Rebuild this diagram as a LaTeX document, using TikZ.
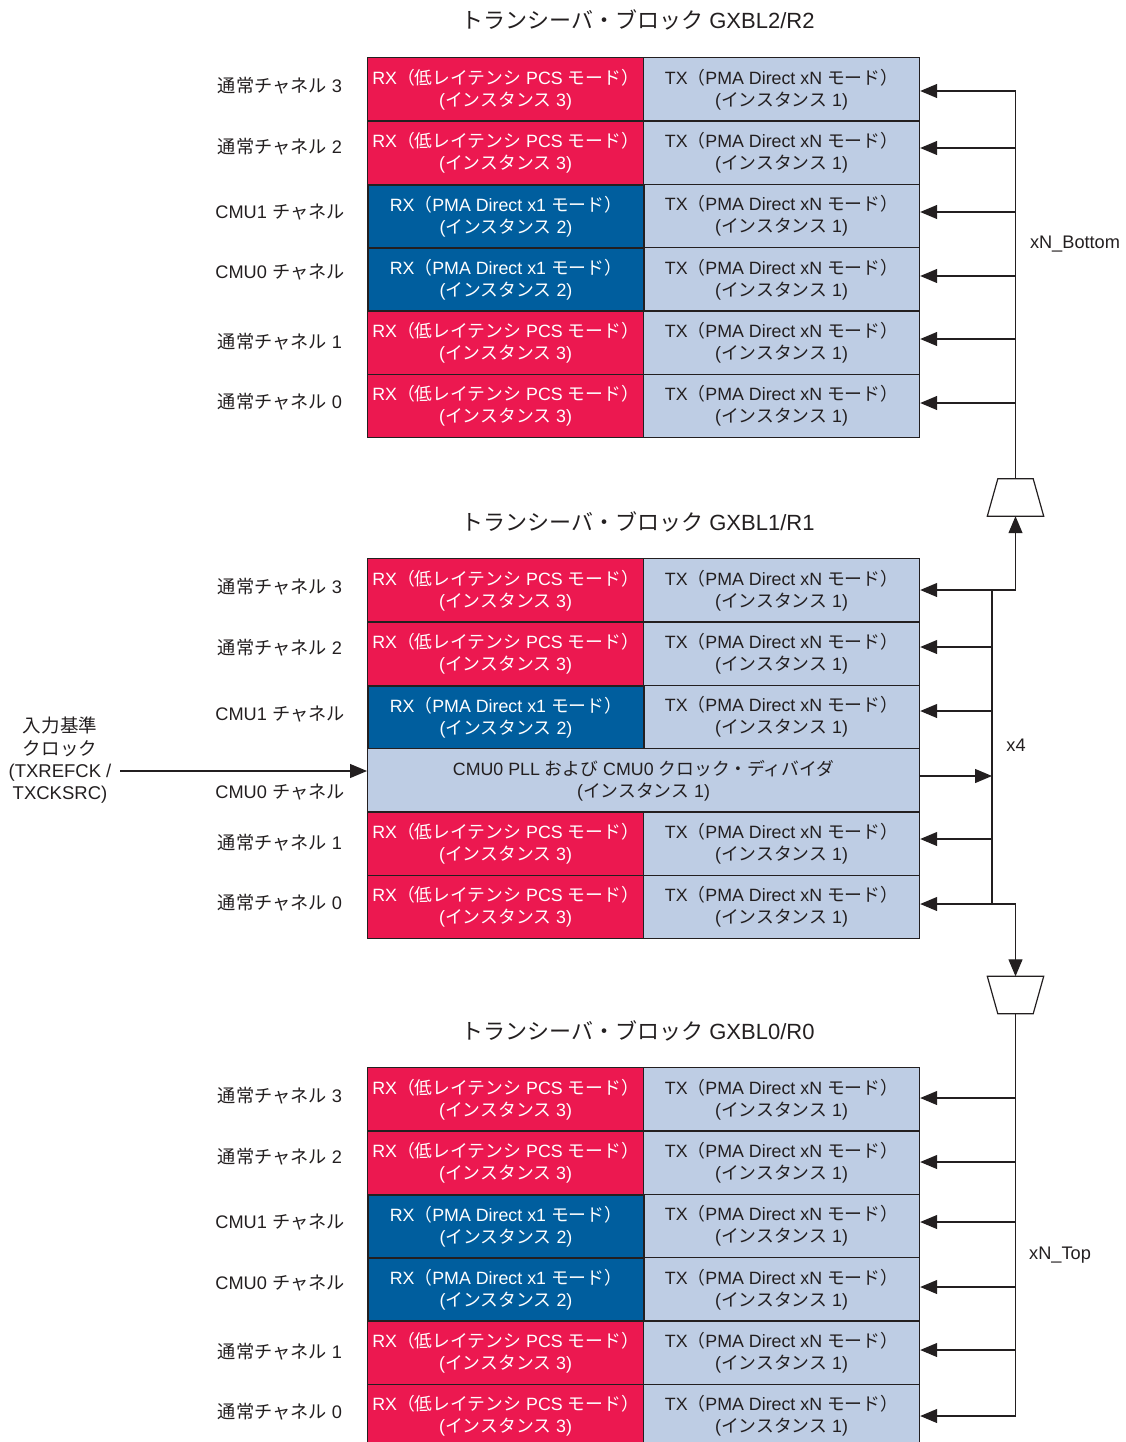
\documentclass[tikz,border=0pt]{standalone}
\usepackage{fontspec}
\setmainfont{Liberation Sans}
\newfontfamily\jpf{Noto Sans CJK JP}
\newcommand\J[1]{{\jpf #1}}
\usetikzlibrary{arrows.meta}
\definecolor{rxred}{RGB}{236,24,80}
\definecolor{rxblue}{RGB}{0,94,158}
\definecolor{txblue}{RGB}{190,205,228}
\definecolor{ink}{RGB}{35,31,32}
\newcommand\RXlowtxt{RX\J{（低レイテンシ} PCS \J{モード）}\\(\J{インスタンス} 3)}
\newcommand\RXpmatxt{RX\J{（}PMA Direct x1 \J{モード）}\\(\J{インスタンス} 2)}
\newcommand\TXtxt{TX\J{（}PMA Direct xN \J{モード）}\\(\J{インスタンス} 1)}
\newcommand\NormLab[1]{\J{通常チャネル} #1}
\newcommand\CmuLab[1]{CMU#1 \J{チャネル}}
% #1 name, #2 top y, #3 label, #4 label y
\newcommand\lowrow[4]{%
  \node[rxlow] (#1rx) at (367,#2) {\RXlowtxt};
  \node[txc] (#1tx) at (643,#2) {\TXtxt};
  \node[chlabel] (#1lab) at (280,#4) {#3};}
\newcommand\pmarow[4]{%
  \node[txc] (#1tx) at (643,#2) {\TXtxt};
  \node[rxpma] (#1rx) at (367,#2) {\RXpmatxt};
  \node[chlabel] (#1lab) at (280,#4) {#3};}
\begin{document}
\begin{tikzpicture}[x=1pt,y=-1pt,
  cell/.style={draw=ink, line width=1.2pt, minimum width=276pt, minimum height=63.33pt,
    anchor=north west, align=center, inner sep=0pt, font=\fontsize{17.8}{22}\selectfont, text=ink},
  rxlow/.style={cell, fill=rxred, text=white},
  rxpma/.style={cell, fill=rxblue, text=white, line width=2pt},
  txc/.style={cell, fill=txblue},
  cmu/.style={cell, fill=txblue, minimum width=552pt},
  chlabel/.style={font=\fontsize{18.2}{22}\selectfont, text=ink},
  side/.style={font=\fontsize{18.5}{22.3}\selectfont, text=ink, align=center, inner sep=0pt},
  ttl/.style={font=\fontsize{22}{26}\selectfont, text=ink},
  wire/.style={draw=ink, line width=1.2pt},
  arr/.style={wire, -{Triangle[length=17pt,width=14pt]}},
  muxbox/.style={inner sep=0pt, minimum width=56pt, minimum height=37pt}
]
\useasboundingbox (0,0) rectangle (1125,1442);

% ---------- titles
\node[ttl] (ttlT) at (638,20) {\J{トランシーバ・ブロック} GXBL2/R2};
\node[ttl] (ttlM) at (638,522) {\J{トランシーバ・ブロック} GXBL1/R1};
\node[ttl] (ttlB) at (638,1031) {\J{トランシーバ・ブロック} GXBL0/R0};

% ---------- top block
\lowrow{T1}{57}{\NormLab{3}}{86}
\lowrow{T2}{120.33}{\NormLab{2}}{147}
\lowrow{T5}{310.33}{\NormLab{1}}{342}
\lowrow{T6}{373.67}{\NormLab{0}}{402}
\pmarow{T3}{183.67}{\CmuLab{1}}{212}
\pmarow{T4}{247}{\CmuLab{0}}{272}

% ---------- middle block
\lowrow{M1}{558}{\NormLab{3}}{587}
\lowrow{M2}{621.33}{\NormLab{2}}{648}
\lowrow{M5}{811.33}{\NormLab{1}}{843}
\lowrow{M6}{874.67}{\NormLab{0}}{903}
\pmarow{M3}{684.67}{\CmuLab{1}}{714}
\node[cmu] (Mcmu) at (367,748) {CMU0 PLL \J{および} CMU0 \J{クロック・ディバイダ}\\(\J{インスタンス} 1)};
\node[chlabel] (M4lab) at (280,792) {\CmuLab{0}};

% ---------- bottom block
\lowrow{B1}{1067}{\NormLab{3}}{1096}
\lowrow{B2}{1130.33}{\NormLab{2}}{1157}
\lowrow{B5}{1320.33}{\NormLab{1}}{1352}
\lowrow{B6}{1383.67}{\NormLab{0}}{1412}
\pmarow{B3}{1193.67}{\CmuLab{1}}{1222}
\pmarow{B4}{1257}{\CmuLab{0}}{1283}

% ---------- input clock
\node[side] (clklab) at (60,760.5) {\J{入力基準}\\\J{クロック}\\(TXREFCK /\\TXCKSRC)};
\coordinate (clkin) at (120,771);
\draw[arr] (clkin) -- (clkin -| Mcmu.west);

% ---------- multiplexers
\node[muxbox] (muxA) at (1015.5,497.5) {};
\draw[wire] (muxA.south west) -- (muxA.south east) -- ([xshift=-10.5pt]muxA.north east)
  -- ([xshift=10.5pt]muxA.north west) -- cycle;
\node[muxbox] (muxB) at (1015.5,995) {};
\draw[wire] (muxB.north west) -- (muxB.north east) -- ([xshift=-10.5pt]muxB.south east)
  -- ([xshift=10.5pt]muxB.south west) -- cycle;

% ---------- top block feed (xN_Bottom)
\coordinate (Ta1) at (1015.5,91);
\coordinate (Ta2) at (1015.5,148);
\coordinate (Ta3) at (1015.5,212);
\coordinate (Ta4) at (1015.5,276);
\coordinate (Ta5) at (1015.5,339);
\coordinate (Ta6) at (1015.5,403);
\draw[wire] (muxA.north) -- (Ta1);
\foreach \k in {1,...,6} {\draw[arr] (Ta\k) -- (Ta\k -| T\k tx.east);}
\node[chlabel] (xnbot) at (1075,244) {xN\_Bottom};

% ---------- middle block bus (x4)
\coordinate (Ma1) at (992,590);
\coordinate (Ma2) at (992,647);
\coordinate (Ma3) at (992,711);
\coordinate (Ma4) at (992,776);
\coordinate (Ma5) at (992,839);
\coordinate (Ma6) at (992,904);
\coordinate (McUp) at (1015.5,590);
\coordinate (McDn) at (1015.5,904);
\draw[wire] (Ma1) -- (Ma6);
\draw[arr] (McUp) -- (McUp -| M1tx.east);
\draw[arr] (McUp) -- (muxA.south);
\foreach \k in {2,3} {\draw[arr] (Ma\k) -- (Ma\k -| M\k tx.east);}
\draw[arr] (Ma4 -| Mcmu.east) -- (Ma4);
\foreach \k in {5} {\draw[arr] (Ma\k) -- (Ma\k -| M\k tx.east);}
\draw[arr] (McDn) -- (McDn -| M6tx.east);
\draw[arr] (McDn) -- (muxB.north);
\node[chlabel] (x4lab) at (1016,745) {x4};

% ---------- bottom block feed (xN_Top)
\coordinate (Ba1) at (1015.5,1098);
\coordinate (Ba2) at (1015.5,1162);
\coordinate (Ba3) at (1015.5,1222);
\coordinate (Ba4) at (1015.5,1287);
\coordinate (Ba5) at (1015.5,1350);
\coordinate (Ba6) at (1015.5,1416);
\draw[wire] (muxB.south) -- (Ba6);
\foreach \k in {1,...,6} {\draw[arr] (Ba\k) -- (Ba\k -| B\k tx.east);}
\node[chlabel] (xntop) at (1060,1255) {xN\_Top};
\end{tikzpicture}
\end{document}
